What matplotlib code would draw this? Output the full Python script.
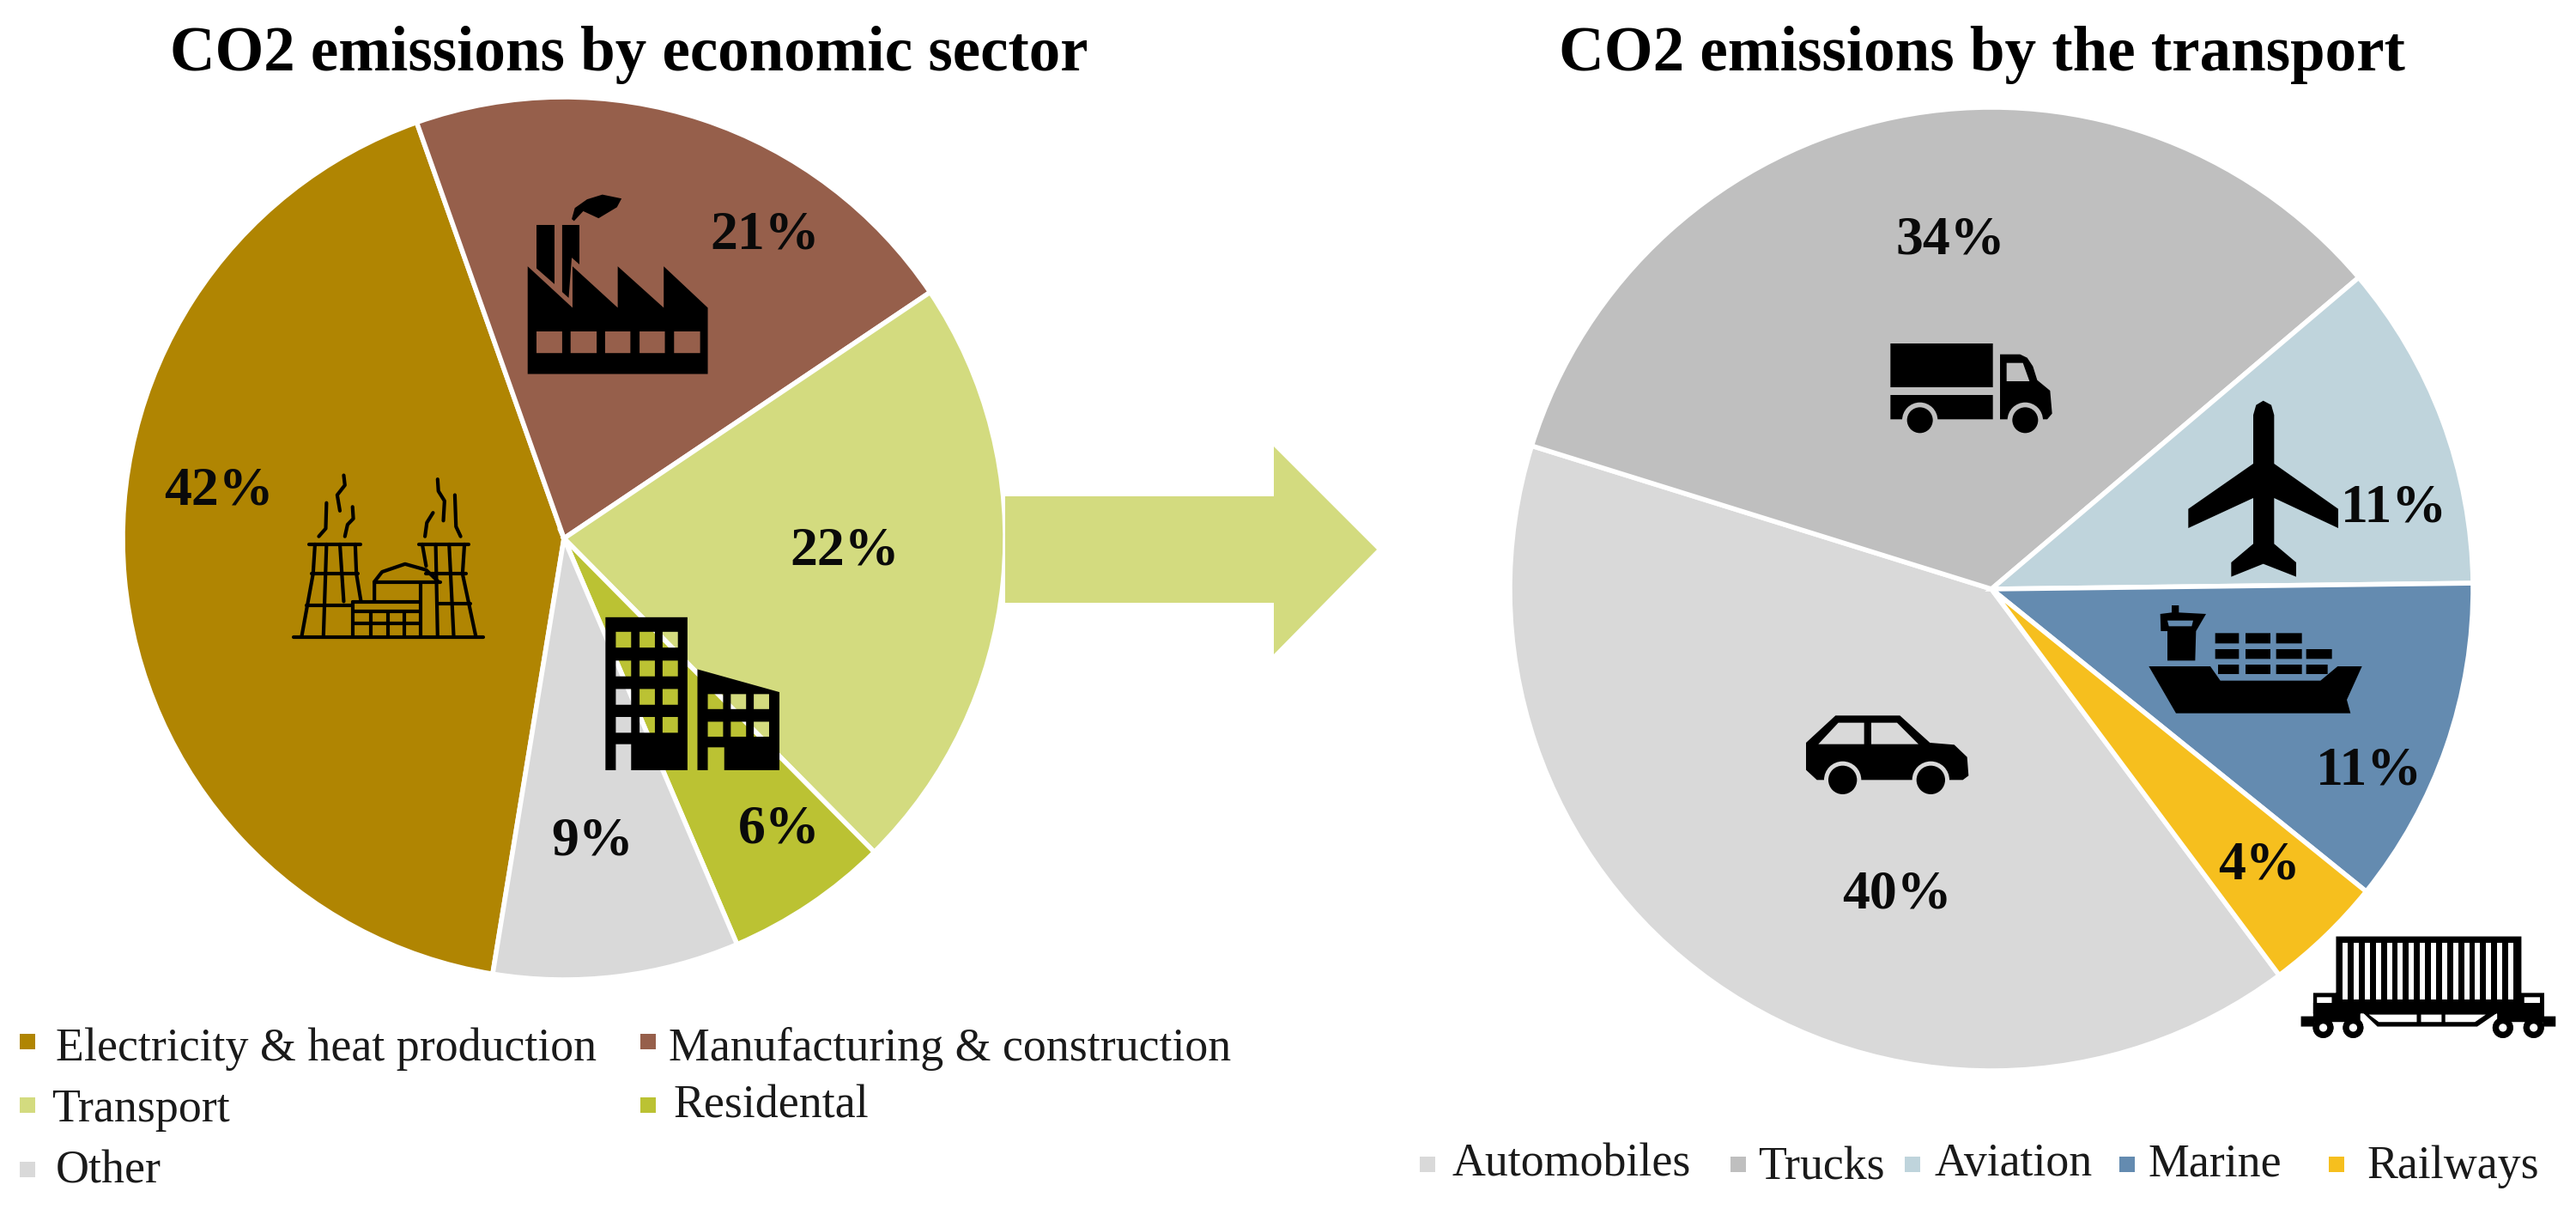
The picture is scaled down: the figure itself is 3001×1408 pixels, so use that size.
import matplotlib
matplotlib.use('Agg')
import matplotlib.pyplot as plt
import numpy as np
from matplotlib.path import Path
from matplotlib.patches import PathPatch, Circle, Polygon

plt.rcParams['font.family'] = ['Liberation Serif', 'DejaVu Serif']

W, H = 3001, 1408

# left pie
sector_names = ['Electricity & heat production', 'Manufacturing & construction',
                'Transport', 'Residental', 'Other']
sector_values = [42, 21, 22, 6, 9]
sector_colors = ['#B08502', '#965F4B', '#D3DB7F', '#BBC233', '#D9D9D9']

# right pie
transport_names = ['Automobiles', 'Trucks', 'Aviation', 'Marine', 'Railways']
transport_values = [40, 34, 11, 11, 4]
transport_colors = ['#D9D9D9', '#BFBFBF', '#BFD4DC', '#648BB0', '#F6BF1E']

BLACK = '#000000'
ARROW = '#D3DB7F'

fig = plt.figure(figsize=(W / 100, H / 100), dpi=100, facecolor='white')


def pie_axes(cx, cy, r, values, colors, start):
    ax = fig.add_axes([(cx - r) / W, 1 - (cy + r) / H, 2 * r / W, 2 * r / H])
    ax.pie(values, colors=colors, startangle=start, counterclock=False, radius=1,
           wedgeprops={'edgecolor': 'white', 'linewidth': 4.0})
    ax.set_xlim(-1, 1)
    ax.set_ylim(-1, 1)
    return ax


pie_axes(657, 627, 514, sector_values, sector_colors, -99.3)
pie_axes(2320, 686, 561, transport_values, transport_colors, -53.3)

# overlay in image pixels, for text, arrow and the pictograms
ov = fig.add_axes([0, 0, 1, 1], zorder=5)
ov.set_xlim(0, W)
ov.set_ylim(H, 0)
ov.axis('off')

ov.add_patch(Polygon([(1171, 578), (1484, 578), (1484, 520), (1604, 640),
                      (1484, 762), (1484, 702), (1171, 702)], fc=ARROW, ec='none'))


def to_px(pts, ox, oy, sx, sy=None):
    sy = sx if sy is None else sy
    return [(ox + x / sx, oy + y / sy) for x, y in pts]


def box(x0, y0, x1, y1):
    return [(x0, y0), (x1, y0), (x1, y1), (x0, y1)]


def shape(outers, holes, ox, oy, sx, sy=None):
    # filled black shape, holes let the pie show through
    verts, codes = [], []
    for i, group in enumerate((outers, holes)):
        for pts in group:
            p = np.array(to_px(pts, ox, oy, sx, sy))
            x, y = p[:, 0], p[:, 1]
            area = np.sum(x * np.roll(y, -1) - y * np.roll(x, -1))
            if (area > 0) != (i == 0):
                p = p[::-1]
            verts += [tuple(v) for v in p] + [tuple(p[0])]
            codes += [Path.MOVETO] + [Path.LINETO] * (len(p) - 1) + [Path.CLOSEPOLY]
    ov.add_patch(PathPatch(Path(verts, codes), fc=BLACK, ec='none'))


def wheel(x, y, ox, oy, s, r, cut, bg):
    c = to_px([(x, y)], ox, oy, s)[0]
    ov.add_patch(Circle(c, cut / s, fc=bg, ec='none'))
    ov.add_patch(Circle(c, r / s, fc=BLACK, ec='none'))


def strokes(lines, ox, oy, sx, sy, lw=3.0):
    for pts in lines:
        p = np.array(to_px(pts, ox, oy, sx, sy))
        ov.plot(p[:, 0], p[:, 1], color=BLACK, lw=lw, solid_capstyle='round',
                solid_joinstyle='round')


# factory
F = (300, 200, 2.24, 2.178)
shape([[(705, 240), (822, 345), (822, 240), (940, 345), (940, 240), (1060, 345),
        (1060, 240), (1175, 345), (1175, 513), (705, 513)],
       [(728, 135), (775, 135), (775, 285), (728, 245)],
       [(795, 135), (840, 135), (840, 235), (820, 218), (812, 320), (795, 305)],
       [(820, 120), (828, 92), (860, 70), (900, 58), (950, 68), (938, 90),
        (890, 118), (850, 100), (826, 125)]],
      [box(728, 405, 795, 460), box(817, 405, 885, 460), box(907, 405, 973, 460),
       box(997, 405, 1063, 460), box(1087, 405, 1155, 460)], *F)

# power plant
strokes([
    [(95, 1180), (590, 1180)],
    [(135, 945), (268, 945)], [(150, 945), (145, 1020), (115, 1180)],
    [(255, 945), (258, 1020), (270, 1090)], [(180, 945), (172, 1180)],
    [(215, 945), (225, 1090)], [(140, 1020), (262, 1020)], [(128, 1100), (245, 1100)],
    [(420, 945), (550, 945)], [(430, 945), (440, 1000)], [(540, 945), (535, 1020), (570, 1180)],
    [(465, 945), (470, 1180)], [(500, 945), (512, 1180)], [(440, 1020), (545, 1020)],
    [(470, 1095), (555, 1095)],
    [(305, 1090), (305, 1040), (325, 1015), (385, 995), (440, 1010), (472, 1040)],
    [(305, 1042), (478, 1042)], [(425, 1042), (425, 1180)],
    [(248, 1092), (425, 1092)], [(248, 1092), (248, 1180)], [(248, 1115), (425, 1115)],
    [(248, 1145), (425, 1145)], [(295, 1115), (295, 1180)], [(340, 1115), (340, 1180)],
    [(382, 1115), (382, 1180)],
    [(160, 925), (178, 905), (180, 840)], [(228, 925), (235, 895), (250, 880), (248, 850)],
    [(225, 770), (228, 795), (208, 820), (215, 860)],
    [(437, 925), (442, 890), (458, 865)], [(530, 925), (518, 900), (515, 820)],
    [(470, 780), (472, 810), (488, 835), (485, 885)],
], *F)

# buildings
tall_windows = [box(x, y, x + 40, y + 40) for x in (935, 997, 1057)
                for y in (1167, 1240, 1312, 1383)]
low_windows = [box(x, y, x + 40, y + 38) for x in (1175, 1235, 1295) for y in (1325, 1395)]
shape([[(908, 1130), (1122, 1130), (1122, 1518), (975, 1518), (975, 1452), (935, 1452),
        (935, 1518), (908, 1518)],
       [(1148, 1262), (1362, 1320), (1362, 1518), (1218, 1518), (1218, 1460), (1175, 1460),
        (1175, 1518), (1148, 1518)]],
      tall_windows + low_windows, *F)

# truck
T = (2180, 370, 3.0)
shape([box(67, 90, 425, 243), box(67, 270, 425, 355),
       [(450, 128), (520, 128), (545, 140), (565, 170), (580, 218), (625, 255), (632, 335),
        (615, 355), (450, 355)]],
      [[(473, 158), (530, 158), (553, 222), (473, 222)]], *T)
wheel(170, 358, *T, 45, 62, transport_colors[1])
wheel(538, 358, *T, 45, 62, transport_colors[1])

# plane
shape([[(350, 80), (325, 95), (315, 130), (315, 300), (88, 458), (88, 525), (315, 420),
        (315, 580), (238, 645), (238, 695), (350, 650), (465, 695), (465, 645), (388, 580),
        (388, 420), (612, 525), (612, 458), (388, 300), (388, 130), (378, 95)]], [],
      2520, 440, 3.0)

# ship
S = (2480, 680, 3.0)
containers = [box(x0, 172, x1, 208) for x0, x1 in ((302, 385), (408, 495), (515, 605))]
containers += [box(x0, 228, x1, 262) for x0, x1 in ((302, 385), (408, 495), (515, 605), (620, 710))]
containers += [box(x0, 282, x1, 315) for x0, x1 in ((312, 385), (408, 495), (515, 605), (620, 695))]
shape([[(70, 288), (285, 288), (320, 338), (670, 338), (730, 288), (815, 288), (762, 405),
        (775, 452), (165, 452)],
       [(110, 105), (150, 100), (150, 75), (175, 75), (175, 100), (270, 105), (235, 165),
        (232, 268), (135, 268), (135, 165), (112, 165)]] + containers,
      [[(135, 128), (225, 128), (220, 148), (140, 148)]], *S)

# car
C = (2080, 790, 3.0)
shape([[(72, 225), (175, 130), (400, 130), (505, 225), (590, 232), (635, 275), (640, 340),
        (620, 355), (110, 355), (72, 320)]],
      [[(115, 230), (185, 155), (275, 155), (275, 230)],
       [(300, 155), (390, 155), (465, 230), (300, 230)]], *C)
wheel(200, 355, *C, 50, 65, transport_colors[0])
wheel(508, 355, *C, 50, 65, transport_colors[0])

# wagon
R = (2660, 1060, 3.01)
shape([box(185, 92, 835, 330), box(105, 290, 190, 362), box(835, 290, 915, 362),
       box(105, 325, 915, 362), [(280, 360), (750, 360), (680, 408), (330, 408)],
       box(105, 360, 270, 392), box(750, 360, 915, 392),
       box(62, 372, 110, 408), box(910, 372, 955, 408)],
      [box(118, 305, 170, 340), box(845, 305, 900, 340),
       [(300, 366), (468, 366), (468, 392), (335, 392)], box(483, 366, 555, 392),
       [(568, 366), (710, 366), (672, 392), (568, 392)]], *R)
for i in range(16):
    x0 = 208 + i * 38.7
    ov.add_patch(Polygon(to_px(box(x0, 115, x0 + 18, 312), *R), fc='white', ec='none'))
for x in (140, 245, 770, 878):
    wheel(x, 412, *R, 36, 36, BLACK)
    ov.add_patch(Circle(to_px([(x, 412)], *R)[0], 14 / R[2], fc='white', ec='none'))

# titles
ov.text(733, 82, 'CO2 emissions by economic sector', fontsize=52.5, fontweight='bold',
        ha='center', va='baseline', color=BLACK)
ov.text(2309, 82, 'CO2 emissions by the transport', fontsize=52.6, fontweight='bold',
        ha='center', va='baseline', color=BLACK)

# percent labels
sector_label_xy = [(255, 572), (891, 274), (984, 642), (908, 966), (690, 981)]
transport_label_xy = [(2210, 1042), (2272, 280), (2789, 592), (2760, 899), (2632, 1008)]
for values, xy in ((sector_values, sector_label_xy), (transport_values, transport_label_xy)):
    for v, (x, y) in zip(values, xy):
        ov.text(x, y, f'{v}%', fontsize=46, fontweight='bold', ha='center', va='center',
                color='#0A0A0A')

# legends
sector_marker_xy = [(32, 1213), (755, 1213), (32, 1287), (755, 1287), (32, 1362)]
sector_text_xy = [(65, 1235), (779, 1235), (60, 1306), (784, 1302), (65, 1377)]
transport_marker_xy = [(1663, 1356), (2025, 1356), (2228, 1356), (2478, 1356), (2722, 1356)]
transport_text_xy = [(1691, 1369), (2048, 1374), (2254, 1369), (2502, 1369), (2757, 1372)]
for names, colors, mxy, txy in ((sector_names, sector_colors, sector_marker_xy, sector_text_xy),
                                (transport_names, transport_colors, transport_marker_xy, transport_text_xy)):
    for name, col, (mx, my), (tx, ty) in zip(names, colors, mxy, txy):
        ov.scatter([mx], [my], marker='s', s=160, color=col, linewidths=0)
        ov.text(tx, ty, name, fontsize=38.8, ha='left', va='baseline', color='#1A1A1A')

fig.savefig('out.png', dpi=100)
